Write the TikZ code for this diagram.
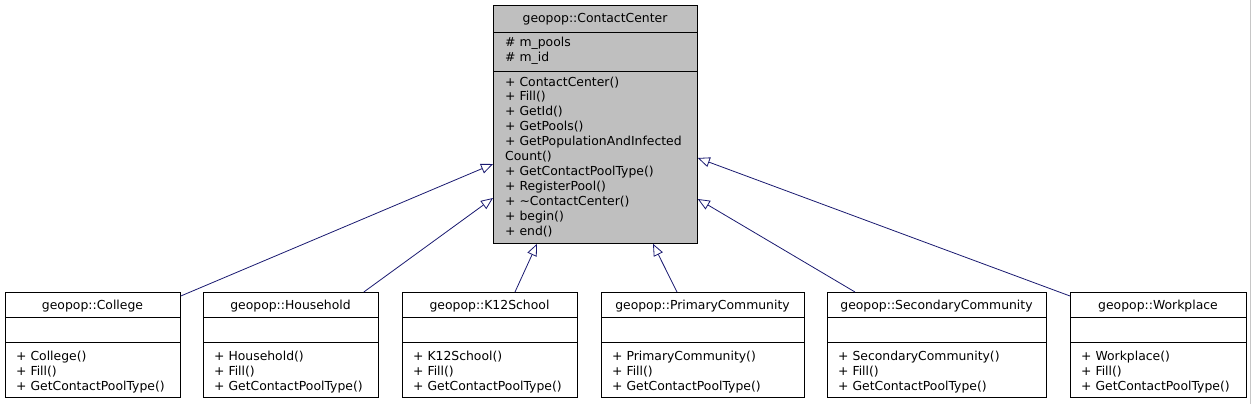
\documentclass[tikz,border=0pt]{standalone}
\usepackage{fontspec}
\setmainfont{DejaVu Sans}
\usetikzlibrary{arrows.meta,calc}
\definecolor{edgeblue}{HTML}{191970}
\definecolor{boxgray}{HTML}{BFBFBF}
\newcommand{\dvfont}{\fontsize{12.4}{14.9}\selectfont}
\tikzset{
  classbox/.style={draw=black, line width=0.8pt, inner sep=0pt, anchor=north west},
  sepline/.style={draw=black, line width=0.8pt},
  txt/.style={inner sep=0pt, anchor=base west, font=\dvfont},
  ttl/.style={inner sep=0pt, anchor=base, font=\dvfont},
  inh/.style={draw=edgeblue, line width=0.8pt, -{Triangle[open, length=12pt, width=10pt, fill=white]}}
}
\begin{document}
\begin{tikzpicture}[x=1pt, y=-1pt]
\useasboundingbox (0,0) rectangle (1251,404);
\draw[gray!45, line width=1pt] (1250.5,0) -- (1250.5,404);

% central class
\node[classbox, fill=boxgray, minimum width=204pt, minimum height=238pt] (cc) at (493,5) {};
\draw[sepline] (493,32) -- (697,32);
\draw[sepline] (493,71) -- (697,71);
\node[ttl] (cct) at (595,23) {geopop::ContactCenter};
\node[txt] (cca1) at (505,47) {\# m\_pools};
\node[txt] (cca2) at (505,62) {\# m\_id};
\foreach \t [count=\i from 0] in {%
  + ContactCenter(), + Fill(), + GetId(), + GetPools(),
  + GetPopulationAndInfected, Count(), + GetContactPoolType(),
  + RegisterPool(), + \textasciitilde ContactCenter(), + begin(), + end()}
  \node[txt] (ccm\i) at (505, 86+\i*14.9) {\t};

% child classes
\foreach \n/\l/\r/\name in {col/5/180/College, hou/203/378/Household, k12/402/577/K12School,
  pri/601/804/PrimaryCommunity, sec/827/1046/SecondaryCommunity, wor/1070/1246/Workplace}{
  \pgfmathsetmacro{\w}{\r-\l}
  \node[classbox, fill=white, minimum width=\w pt, minimum height=105pt] (\n) at (\l,292) {};
  \draw[sepline] (\l,317) -- (\r,317);
  \draw[sepline] (\l,342) -- (\r,342);
  \node[ttl] (\n t) at ({(\l+\r)/2},309.5) {geopop::\name};
  \node[txt] (\n m1) at (\l+11,360) {+ \name()};
  \node[txt] (\n m2) at (\l+11,375) {+ Fill()};
  \node[txt] (\n m3) at (\l+11,390) {+ GetContactPoolType()};
}

% inheritance connectors
\draw[inh] ($(col.north east)+(0,4)$) -- ($(cc.north west)+(0,159)$);
\draw[inh] ($(hou.north east)+(-15,0)$) -- ($(cc.north west)+(0,193)$);
\draw[inh] ($(k12.north west)+(113,0)$) -- ($(cc.south west)+(44,0)$);
\draw[inh] ($(pri.north west)+(76,0)$) -- ($(cc.south west)+(160,0)$);
\draw[inh] ($(sec.north west)+(28,0)$) -- ($(cc.north east)+(0,194)$);
\draw[inh] ($(wor.north west)+(0,4)$) -- ($(cc.north east)+(0,153)$);
\end{tikzpicture}
\end{document}
